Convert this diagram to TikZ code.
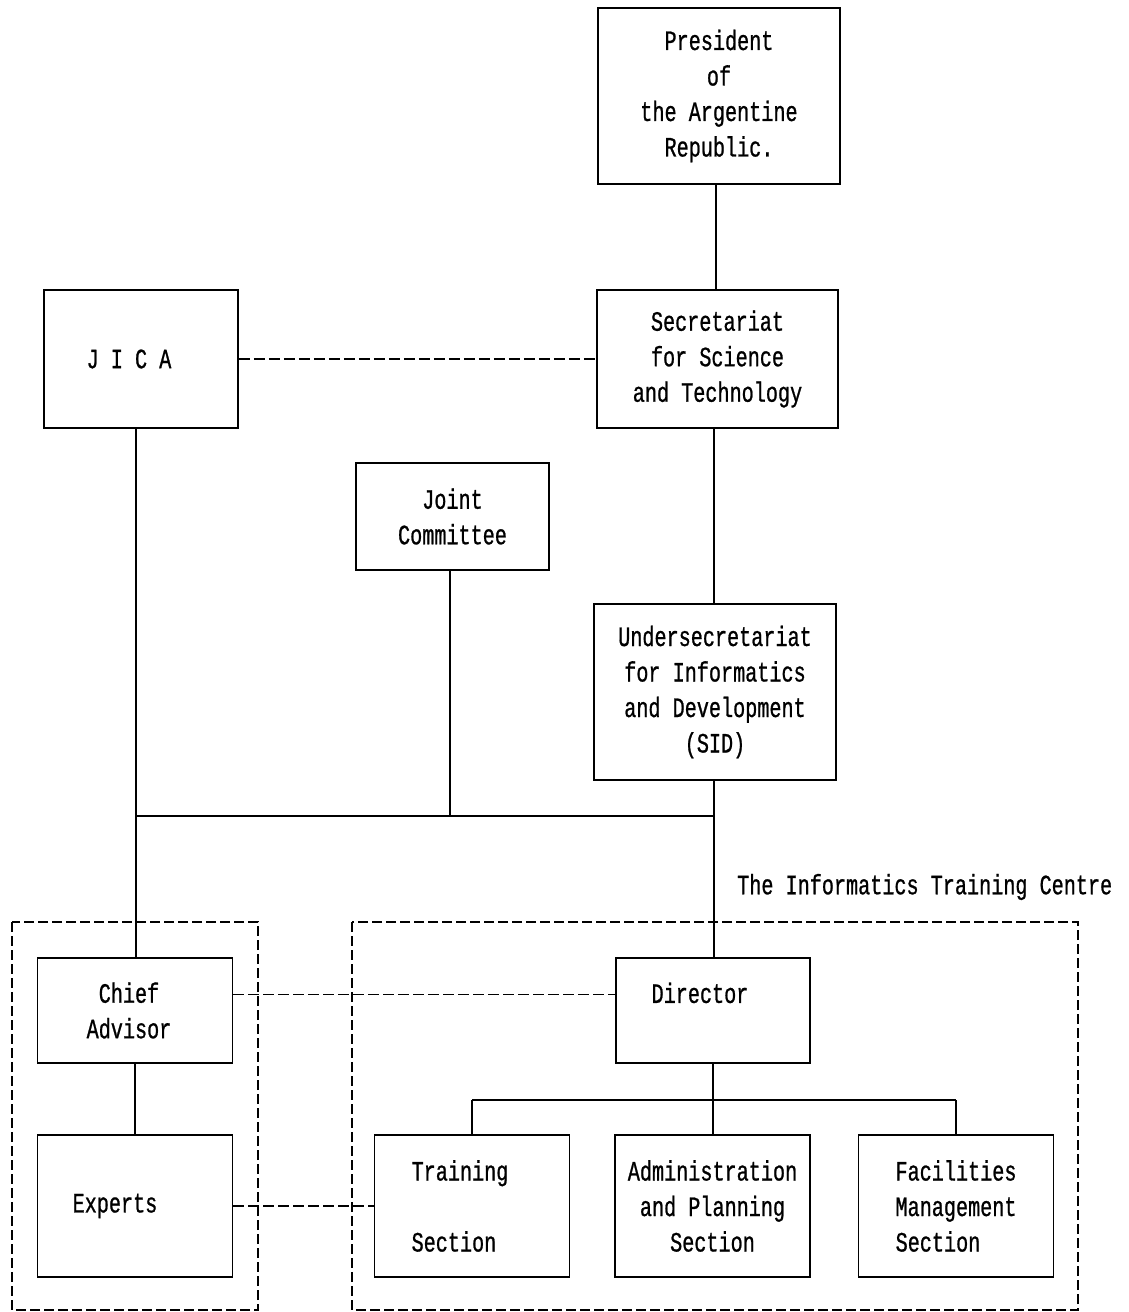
\documentclass[tikz,border=0pt]{standalone}
\usepackage{fontspec}
\newfontfamily\typefont[FakeStretch=0.72,FakeBold=0.8]{Liberation Mono}
\begin{document}
\begin{tikzpicture}[x=1pt,y=-1pt,
  box/.style={draw,line width=1.8pt,inner sep=0pt,align=center,
    font=\typefont\fontsize{28}{35.5}\selectfont},
  conn/.style={line width=1.8pt},
  dconn/.style={line width=1.5pt,dash pattern=on 11pt off 4pt},
  frame/.style={line width=1.4pt,dash pattern=on 10pt off 4pt},
  lbl/.style={inner sep=0pt,font=\typefont\fontsize{28}{35.5}\selectfont}]
\useasboundingbox (0,0) rectangle (1129,1312);
% boxes
\node[box,minimum width=242pt,minimum height=176pt] (pres) at (719,96)
  {President\\of\\the Argentine\\Republic.};
\node[box,minimum width=241pt,minimum height=138pt] (sec) at (717.5,359)
  {Secretariat\\for Science\\and Technology};
\node[box,minimum width=194pt,minimum height=138pt] (jica) at (141,359)
  {J I C A\hspace*{24pt}};
\node[box,minimum width=193pt,minimum height=107pt] (joint) at (452.5,516.5)
  {Joint\\Committee};
\node[box,minimum width=242pt,minimum height=176pt] (under) at (715,692)
  {Undersecretariat\\for Informatics\\and Development\\(SID)};
\node[box,minimum width=195pt,minimum height=105pt] (chief) at (135,1010.5)
  {Chief\hspace*{12pt}\\Advisor\hspace*{12pt}};
\node[box,minimum width=194pt,minimum height=105pt] (dir) at (713,1010.5)
  {Director\hspace*{26pt}\\\mbox{}};
\node[box,minimum width=195pt,minimum height=142pt] (exp) at (135,1206)
  {Experts\hspace*{40pt}};
\node[box,minimum width=195pt,minimum height=142pt,align=left] (train) at (472,1206)
  {Training\hspace*{24pt}\\\mbox{}\\Section};
\node[box,minimum width=195pt,minimum height=142pt] (admin) at (712.5,1206)
  {Administration\\and Planning\hspace*{8pt}\\Section};
\node[box,minimum width=195pt,minimum height=142pt] (fac) at (956,1206)
  {Facilities\\Management\\Section\hspace*{36pt}};
\node[lbl,anchor=west] (itc) at (737,887) {The Informatics Training Centre};
% dashed frames
\draw[frame] (12,922) rectangle (258,1310);
\draw[frame] (352,922) rectangle (1078,1310);
% bus coordinates
\coordinate (busL) at (136,816);
\coordinate (busR) at (714,816);
\coordinate (subL) at (472,1100);
\coordinate (subR) at (956,1100);
% connectors
\draw[conn] (pres.south -| 716,0) -- (sec.north -| 716,0);
\draw[dconn] (jica.east) -- (sec.west);
\draw[conn] (sec.south -| busR) -- (under.north -| busR);
\draw[conn] (jica.south -| busL) -- (chief.north -| busL);
\draw[conn] (busL) -- (busR);
\draw[conn] (joint.south -| 450,0) -- (450,816);
\draw[conn] (under.south -| busR) -- (dir.north -| busR);
\draw[dconn] ([yshift=16pt]chief.east) -- ([yshift=16pt]dir.west);
\draw[conn] (chief.south) -- (exp.north);
\draw[conn] (dir.south) -- (dir.south |- subL);
\draw[conn] (subL) -- (subR);
\draw[conn] (subL) -- (train.north);
\draw[conn] (dir.south |- subL) -- (admin.north -| dir.south);
\draw[conn] (subR) -- (fac.north);
\draw[dconn] (exp.east) -- (train.west);
\end{tikzpicture}
\end{document}
